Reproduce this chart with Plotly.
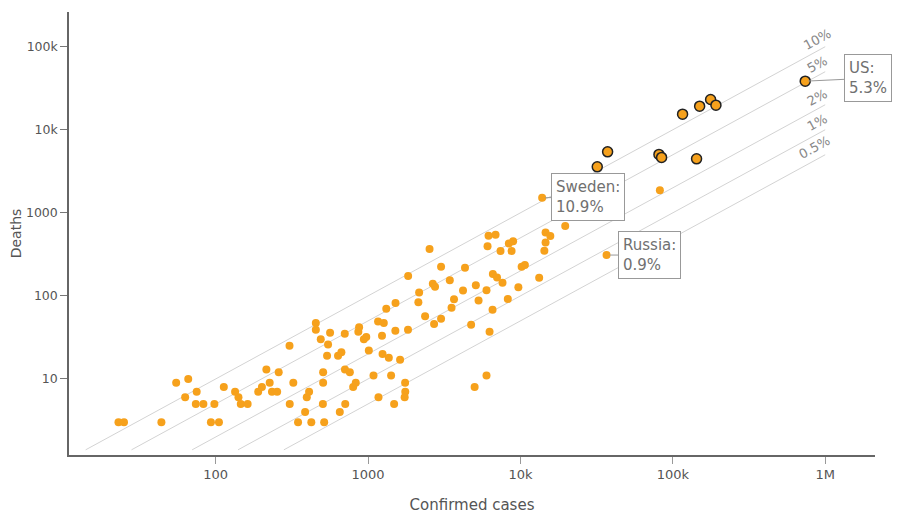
import math

import plotly.graph_objects as go

# Countries: confirmed cases vs deaths
cases = [
    23, 25, 44, 55, 66, 63, 75, 74, 83, 98, 93, 105, 113, 134, 141, 146, 162,
    190, 201, 215, 226, 234, 253, 259, 305, 306, 323, 347, 386, 396, 410, 424,
    489, 507, 507, 505, 515, 538, 546, 635, 668, 652, 705, 708, 759, 798, 830,
    454, 454, 563, 703, 863, 873, 938, 973, 1011, 1085, 1170, 1163, 1268, 1234,
    1244, 1368, 1316, 1514, 1510, 1622, 1416, 1482, 1750, 1754, 1738, 1828,
    2138, 2163, 2531, 1832, 3013, 4325, 6175, 6866, 6081, 7400, 8390, 8951,
    8743, 14620, 15710, 14620, 14350, 19670, 3438, 2660, 2750, 5096, 4198,
    3664, 3530, 5986, 5310, 6590, 7020, 7625, 10180, 10690, 13270, 9690, 8260,
    6560, 6270, 4745, 3013, 2711, 2367, 5986, 5003,
    13880, 36730, 82240,
]
deaths = [
    3, 3, 3, 9, 10, 6, 7, 5, 5, 5, 3, 3, 8, 7, 6, 5, 5,
    7, 8, 13, 9, 7, 7, 12, 25, 5, 9, 3, 4, 6, 7, 3,
    30, 12, 9, 5, 3, 19, 26, 19, 21, 4, 13, 5, 12, 8, 9,
    47, 39, 36, 35, 37, 42, 30, 32, 22, 11, 6, 49, 47, 33,
    20, 18, 70, 82, 38, 17, 11, 5, 9, 7, 6, 39,
    84, 110, 366, 173, 224, 218, 529, 543, 397, 346, 428, 456,
    346, 578, 527, 440, 349, 692, 154, 140, 129, 134, 116,
    91, 72, 117, 88, 183, 167, 144, 224, 235, 165, 127, 92,
    68, 37, 45, 53, 46, 57, 11, 8,
    1517, 310, 1876,
]

# Countries with the most deaths (outlined markers)
big_cases = [31920, 37330, 81100, 84400, 143200, 115900, 150000, 177000, 191900, 739600]
big_deaths = [3580, 5420, 5047, 4645, 4467, 15410, 19230, 23170, 19770, 38460]

# Case fatality reference lines
rates = [0.10, 0.05, 0.02, 0.01, 0.005]
rate_labels = ["10%", "5%", "2%", "1%", "0.5%"]
line_start_deaths = 1.4
line_end_cases = 1_000_000

# Callouts
callout_names = ["Sweden", "Russia", "US"]
callout_cases = [13880, 36730, 739600]
callout_deaths = [1517, 310, 38460]
callout_text = ["Sweden:<br>10.9%", "Russia:<br>0.9%", "US:<br>5.3%"]

x_ticks = [100, 1000, 10000, 100000, 1000000]
x_ticktext = ["100", "1000", "10k", "100k", "1M"]
y_ticks = [10, 100, 1000, 10000, 100000]
y_ticktext = ["10", "100", "1000", "10k", "100k"]

ORANGE = "#F6A11C"
FONT = "DejaVu Sans"

fig = go.Figure()

# reference lines
for r in rates:
    fig.add_trace(go.Scatter(
        x=[line_start_deaths / r, line_end_cases],
        y=[line_start_deaths, line_end_cases * r],
        mode="lines",
        line=dict(color="#d3d3d3", width=1),
        hoverinfo="skip",
        showlegend=False,
    ))

fig.add_trace(go.Scatter(
    x=cases, y=deaths,
    mode="markers",
    marker=dict(color=ORANGE, size=8),
    showlegend=False,
))

fig.add_trace(go.Scatter(
    x=big_cases, y=big_deaths,
    mode="markers",
    marker=dict(color=ORANGE, size=10, line=dict(color="#222", width=1.5)),
    showlegend=False,
))

# slope of the guide lines in pixels
angle = -math.degrees(math.atan(83.1 / 152.3))

for r, lab in zip(rates, rate_labels):
    fig.add_annotation(
        x=math.log10(line_end_cases), y=math.log10(line_end_cases * r),
        text=lab, showarrow=False, textangle=angle,
        xanchor="center", yanchor="middle",
        xshift=-8 if lab != "0.5%" else -11, yshift=7,
        font=dict(family=FONT, size=13, color="#888"),
    )

offsets = {"Sweden": (46, -1), "Russia": (43, 0), "US": (63, -3)}
for name, c, d, t in zip(callout_names, callout_cases, callout_deaths, callout_text):
    ax, ay = offsets[name]
    fig.add_annotation(
        x=math.log10(c), y=math.log10(d),
        text=t, align="left",
        showarrow=True, arrowhead=0, arrowwidth=1, arrowcolor="#999",
        standoff=3, ax=ax, ay=ay,
        bordercolor="#999", borderwidth=1, borderpad=4, bgcolor="white",
        font=dict(family=FONT, size=15, color="#707070"),
    )

fig.update_layout(
    width=900, height=521,
    margin=dict(l=61, r=33, t=4, b=74),
    plot_bgcolor="white", paper_bgcolor="white",
    font=dict(family=FONT, color="#555"),
    xaxis=dict(
        type="log", range=[1.037, 6.327],
        tickvals=x_ticks, ticktext=x_ticktext,
        showgrid=False, zeroline=False, automargin=False,
        showline=True, linecolor="#666", linewidth=1.5,
        ticks="outside", ticklen=7, tickcolor="#999",
        tickfont=dict(size=13, color="#555"),
        title=dict(text="Confirmed cases", font=dict(size=15, color="#555"), standoff=18),
    ),
    yaxis=dict(
        type="log", range=[0.084, 5.418],
        tickvals=y_ticks, ticktext=y_ticktext,
        showgrid=False, zeroline=False, automargin=False,
        showline=True, linecolor="#666", linewidth=1.5,
        ticks="outside", ticklen=7, tickcolor="#777",
        tickfont=dict(size=12.5, color="#555"),
        title=dict(text="Deaths", font=dict(size=14, color="#555"), standoff=8),
    ),
)

fig.write_html("out.html")
